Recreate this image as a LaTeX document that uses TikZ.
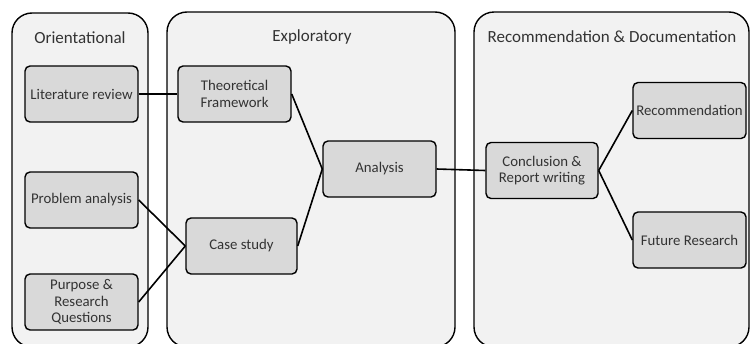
\documentclass[tikz,border=0pt]{standalone}
\usepackage{fontspec}
\setmainfont{Carlito}
\begin{document}
\begin{tikzpicture}[x=1pt,y=-1pt,
  phase/.style={draw=black, line width=1.4pt, fill=phasefill, rounded corners=20pt},
  phasetitle/.style={font=\fontsize{17}{19}\selectfont, text=black!80},
  stepbox/.style={draw=black, line width=1.4pt, fill=boxfill, rounded corners=5pt,
    minimum width=113pt, minimum height=56pt, align=center, inner sep=1pt,
    font=\fontsize{14.8}{16.5}\selectfont, text=black!80},
  link/.style={draw=black, line width=1.6pt}]
\definecolor{phasefill}{HTML}{F2F2F2}
\definecolor{boxfill}{HTML}{D9D9D9}
\useasboundingbox (0,0) rectangle (751,343);
\clip (0,0) rectangle (751,343);
\fill[white] (0,0) rectangle (751,343);

% phase panels
\path[phase] (12,13) rectangle (148,347);
\path[phase] (167,12) rectangle (455,347);
\path[phase] (474,12) rectangle (749,347);
\node[phasetitle] (t1) at (80,38) {Orientational};
\node[phasetitle] (t2) at (312,37) {Exploratory};
\node[phasetitle] (t3) at (612,37) {Recommendation \& Documentation};

% steps
\node[stepbox] (lit) at (81.5,94) {Literature review};
\node[stepbox] (prob) at (81.5,200) {Problem analysis};
\node[stepbox] (purp) at (81.5,302) {Purpose \&\\Research\\Questions};
\node[stepbox] (theo) at (234.5,94) {Theoretical\\Framework};
\node[stepbox, minimum width=111pt] (case) at (241.5,246) {Case study};
\node[stepbox] (ana) at (379.5,169) {Analysis};
\node[stepbox, minimum width=112pt] (conc) at (542,170.5) {Conclusion \&\\Report writing};
\node[stepbox] (rec) at (689.5,110.5) {Recommendation};
\node[stepbox] (fut) at (689.5,240) {Future Research};

% connectors
\path[link] (lit.east) -- (theo.west);
\path[link] (prob.east) -- (case.west);
\path[link] (purp.east) -- (case.west);
\path[link] (theo.east) -- (ana.west);
\path[link] (case.east) -- (ana.west);
\path[link] (ana.east) -- (conc.west);
\path[link] (conc.east) -- (rec.west);
\path[link] (conc.east) -- (fut.west);
\end{tikzpicture}
\end{document}
